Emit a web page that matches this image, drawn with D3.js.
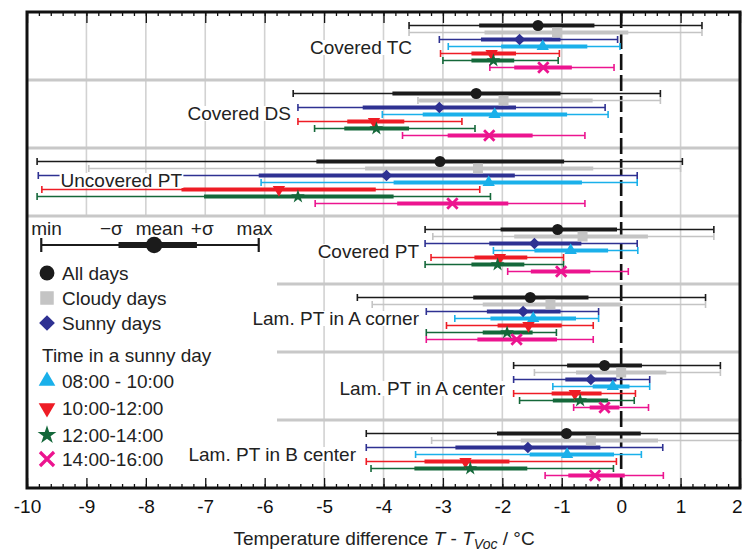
<!DOCTYPE html>
<html><head><meta charset="utf-8">
<script src="https://cdn.jsdelivr.net/npm/d3@7"></script>
<style>
body{margin:0;background:#fff}
svg{display:block;font-family:"Liberation Sans",Arial,Helvetica,sans-serif}
</style>
</head><body>
<svg id="c" width="742" height="552"></svg>
<script>
// ---------- data ----------
const groups = ["Covered TC","Covered DS","Uncovered PT","Covered PT","Lam. PT in A corner","Lam. PT in A center","Lam. PT in B center"];
const seriesNames = ["All days","Cloudy days","Sunny days","08:00 - 10:00","10:00-12:00","12:00-14:00","14:00-16:00"];
// each entry: [min, mean-σ, mean, mean+σ, max] per group (in group order)
const allDays = [[-3.57,-2.39,-1.40,-0.45,1.36],[-5.52,-3.85,-2.44,-1.02,0.66],[-9.83,-5.13,-3.05,-0.96,1.03],[-3.30,-2.03,-1.07,-0.07,1.56],[-4.44,-2.49,-1.53,-0.55,1.42],[-1.81,-0.91,-0.28,0.35,1.67],[-4.29,-2.09,-0.92,0.33,2.0]];
const cloudyDays = [[-3.57,-2.30,-1.08,0.12,1.36],[-3.42,-3.40,-1.98,-0.48,0.66],[-8.96,-4.31,-2.41,-0.47,1.0],[-3.17,-1.80,-0.65,0.45,1.56],[-4.19,-2.33,-1.19,0.0,1.42],[-1.46,-0.76,0.0,0.76,1.67],[-3.19,-1.69,-0.51,0.62,2.1]];
const sunnyDays = [[-3.06,-2.36,-1.71,-1.02,-0.06],[-5.44,-4.35,-3.06,-1.77,-0.27],[-9.81,-6.10,-3.95,-1.79,0.27],[-3.30,-2.22,-1.46,-0.67,0.27],[-3.28,-2.26,-1.65,-1.02,-0.38],[-1.81,-0.94,-0.51,-0.08,0.48],[-4.29,-2.79,-1.57,-0.35,0.70]];
const t0810 = [[-2.91,-2.02,-1.32,-0.57,-0.02],[-4.02,-3.34,-2.13,-0.91,-0.22],[-6.06,-3.83,-2.23,-0.66,0.27],[-2.15,-1.46,-0.85,-0.22,0.28],[-2.80,-2.20,-1.48,-0.76,-0.38],[-1.15,-0.48,-0.14,0.14,0.48],[-3.46,-1.54,-0.91,-0.12,0.34]];
const t1012 = [[-3.04,-2.52,-2.18,-1.77,-1.04],[-5.44,-4.61,-4.16,-3.65,-2.68],[-9.75,-7.40,-5.76,-4.13,-2.38],[-3.20,-2.47,-2.04,-1.58,-0.97],[-2.94,-2.08,-1.56,-1.00,-0.47],[-1.81,-1.17,-0.78,-0.33,0.24],[-4.29,-3.31,-2.62,-1.88,-0.08]];
const t1214 = [[-3.00,-2.52,-2.15,-1.80,-1.06],[-5.16,-4.66,-4.12,-3.57,-2.46],[-9.83,-7.02,-5.44,-3.83,-2.20],[-3.30,-2.52,-2.08,-1.63,-0.97],[-3.28,-2.33,-1.92,-1.49,-1.09],[-1.71,-1.15,-0.69,-0.22,0.22],[-4.21,-3.48,-2.54,-1.58,-0.13]];
const t1416 = [[-2.21,-1.80,-1.31,-0.83,-0.12],[-3.68,-2.92,-2.22,-1.49,-0.61],[-5.15,-3.77,-2.84,-1.90,-0.61],[-1.91,-1.52,-1.01,-0.52,0.12],[-3.28,-2.42,-1.76,-1.08,-0.47],[-0.80,-0.53,-0.28,-0.03,0.46],[-1.28,-0.89,-0.44,0.06,0.71]];
const xTickLabels = [-10,-9,-8,-7,-6,-5,-4,-3,-2,-1,0,1,2];
const legendSample = [-9.76,-8.46,-7.86,-7.14,-6.10]; // min, -σ, mean, +σ, max on x scale
const legendSampleLabels = ["min","\u2212\u03c3","mean","+\u03c3","max"];
const legendSampleLabelAt = [-9.67,-8.58,-7.77,-7.05,-6.17];

const seriesData = [allDays,cloudyDays,sunnyDays,t0810,t1012,t1214,t1416];
const colors = ["#1b1b1b","#c4c4c4","#2e3192","#1ab0ea","#ee1c25","#14683a","#ec148f"];
const markers = ["circle","square","diamond","up","down","star","x"];

// ---------- layout ----------
const W=742,H=552;
const L=27,R=740,T=12,B=488;
const svg=d3.select("#c");
const x=d3.scaleLinear().domain([-10,2]).range([L,R]);
const gy=d3.scaleBand().domain(groups).range([T,B]);
const ry=d3.scalePoint().domain(seriesNames).range([13.5,55.5]);
const legendRight=277, legendTop=gy(groups[3]);

svg.append("rect").attr("width",W).attr("height",H).attr("fill","#fff");

// vertical grid
svg.append("g").selectAll("line").data(xTickLabels.filter(v=>v>-10&&v<2&&v!==0)).join("line")
  .attr("x1",d=>x(d)).attr("x2",d=>x(d)).attr("y1",T).attr("y2",B)
  .attr("stroke","#d2d2d2").attr("stroke-width",1.6);

// legend background
svg.append("rect").attr("x",L).attr("y",legendTop).attr("width",legendRight-L).attr("height",B-legendTop).attr("fill","#fff");

// separators
svg.append("g").selectAll("line").data(groups.slice(1)).join("line")
  .attr("x1",(d,i)=>i<3?L:legendRight).attr("x2",R).attr("y1",d=>gy(d)).attr("y2",d=>gy(d))
  .attr("stroke","#c8c8c8").attr("stroke-width",3.2);

// zero dashed line
svg.append("line").attr("x1",x(0)).attr("x2",x(0)).attr("y1",T).attr("y2",B)
  .attr("stroke","#111").attr("stroke-width",2.6).attr("stroke-dasharray","16,5");

// axes ticks
const minor=d3.range(-10,2.0001,0.2).map(v=>Math.round(v*10)/10);
const topAx=svg.append("g").attr("transform",`translate(0,${T})`)
  .call(d3.axisTop(x).tickValues(minor).tickSizeInner(-4).tickSizeOuter(0).tickFormat(""));
const topMaj=svg.append("g").attr("transform",`translate(0,${T})`)
  .call(d3.axisTop(x).tickValues(xTickLabels).tickSizeInner(-11).tickSizeOuter(0).tickFormat(""));
const botAx=svg.append("g").attr("transform",`translate(0,${B})`)
  .call(d3.axisBottom(x).tickValues(minor).tickSizeInner(-4).tickSizeOuter(0).tickFormat(""));
const botMaj=svg.append("g").attr("transform",`translate(0,${B})`)
  .call(d3.axisBottom(x).tickValues(xTickLabels).tickSizeInner(-10).tickSizeOuter(0).tickPadding(12).tickFormat(d3.format("d")));
[topAx,topMaj,botAx,botMaj].forEach(a=>{a.select(".domain").remove();a.selectAll("line").attr("stroke","#111").attr("stroke-width",1.3);});
botMaj.selectAll("text").attr("font-size",19).attr("fill","#111").attr("font-family","Liberation Sans, Arial, sans-serif")
  .text(d=>d<0?"-"+Math.abs(d):d)
  .attr("text-anchor",d=>d===2?"end":"middle").attr("dx",d=>d===2?2:0);

// symbol helper
function sym(g,type,cx,cy,color,s){
  const k=s||1;
  let el, extra="";
  if(type==="circle") el=g.append("circle").attr("r",5.5*k).attr("fill",color);
  else if(type==="square") el=g.append("rect").attr("x",-5*k).attr("y",-5*k).attr("width",10*k).attr("height",10*k).attr("fill",color);
  else if(type==="diamond"){ el=g.append("path").attr("d",d3.symbol(d3.symbolSquare,68*k*k)()).attr("fill",color); extra="rotate(45)"; }
  else if(type==="up") el=g.append("path").attr("d",d3.symbol(d3.symbolTriangle,66*k*k)()).attr("fill",color);
  else if(type==="down"){ el=g.append("path").attr("d",d3.symbol(d3.symbolTriangle,66*k*k)()).attr("fill",color); extra="rotate(180)"; }
  else if(type==="star") el=g.append("path").attr("d",d3.symbol(d3.symbolStar,60*k*k)()).attr("fill",color);
  else if(type==="x"){const a=5.2*k; el=g.append("path").attr("d",`M${-a},${-a}L${a},${a}M${-a},${a}L${a},${-a}`).attr("stroke",color).attr("stroke-width",2.8*Math.sqrt(k)).attr("fill","none");}
  el.attr("transform",`translate(${cx},${cy}) ${extra}`);
  return el;
}

// group labels (right edge x, baseline y relative to group top)
const labelRight=[412,291,182,419,419,505,356];
const labelBase=[42,40,39,42,41,43,41];
const rows=svg.append("g");
groups.forEach((grp,gi)=>{
  seriesNames.forEach((sn,si)=>{
    const v=seriesData[si][gi], c=colors[si], y=gy(grp)+ry(sn);
    const g=rows.append("g");
    g.append("line").attr("x1",x(v[0])).attr("x2",x(v[4])).attr("y1",y).attr("y2",y).attr("stroke",c).attr("stroke-width",1.6);
    [v[0],v[4]].forEach(e=>g.append("line").attr("x1",x(e)).attr("x2",x(e)).attr("y1",y-3.5).attr("y2",y+3.5).attr("stroke",c).attr("stroke-width",1.6));
    g.append("line").attr("x1",x(v[1])).attr("x2",x(v[3])).attr("y1",y).attr("y2",y).attr("stroke",c).attr("stroke-width",4);
  });
});
groups.forEach((grp,gi)=>{
  seriesNames.forEach((sn,si)=>{
    const v=seriesData[si][gi], y=gy(grp)+ry(sn);
    sym(rows,markers[si],x(v[2]),y,colors[si],1);
  });
});
const labTop=svg.append("g");
groups.forEach((grp,i)=>{
  const t=labTop.append("text").attr("x",labelRight[i]).attr("y",gy(grp)+labelBase[i]).attr("text-anchor","end")
    .attr("font-size",19).attr("fill","#222").text(grp);
  const bb=t.node().getBBox();
  labTop.insert("rect","text").attr("x",bb.x-1).attr("y",gy(grp)+labelBase[i]-14).attr("width",bb.width+2).attr("height",15).attr("fill","#fff");
});

// frame
svg.append("rect").attr("x",L).attr("y",T).attr("width",R-L).attr("height",B-T).attr("fill","none").attr("stroke","#111").attr("stroke-width",3);

// legend
const lg=svg.append("g").attr("font-size",19).attr("fill","#222");
const ly=245;
lg.append("line").attr("x1",x(legendSample[0])).attr("x2",x(legendSample[4])).attr("y1",ly).attr("y2",ly).attr("stroke","#1b1b1b").attr("stroke-width",2.2);
[legendSample[0],legendSample[4]].forEach(e=>lg.append("line").attr("x1",x(e)).attr("x2",x(e)).attr("y1",ly-7).attr("y2",ly+7).attr("stroke","#1b1b1b").attr("stroke-width",2.2));
lg.append("line").attr("x1",x(legendSample[1])).attr("x2",x(legendSample[3])).attr("y1",ly).attr("y2",ly).attr("stroke","#1b1b1b").attr("stroke-width",6);
sym(lg,"circle",x(legendSample[2]),ly,"#1b1b1b",1.5);
legendSampleLabels.forEach((t,i)=>lg.append("text").attr("x",x(legendSampleLabelAt[i])).attr("y",235).attr("text-anchor","middle").text(t));

const legendY=[273,298,323,null,381,408,435,459];
const legendItems=[0,1,2,null,3,4,5,6];
legendItems.forEach((si,i)=>{
  if(si===null){lg.append("text").attr("x",42).attr("y",362).text("Time in a sunny day");return;}
  sym(lg,markers[si],47,legendY[i],colors[si],1.35);
  lg.append("text").attr("x",62).attr("y",legendY[i]+7).text(seriesNames[si]);
});

// axis title
const tt=svg.append("text").attr("x",384).attr("y",545).attr("text-anchor","middle").attr("font-size",19).attr("fill","#222");
tt.append("tspan").text("Temperature difference  ");
tt.append("tspan").attr("font-style","italic").text("T");
tt.append("tspan").text(" - ");
tt.append("tspan").attr("font-style","italic").text("T");
tt.append("tspan").attr("font-style","italic").attr("font-size",14).attr("dy",4).text("V");
tt.append("tspan").attr("font-style","italic").attr("font-size",14).text("oc");
tt.append("tspan").attr("dy",-4).text(" / \u00b0C");
</script>
</body></html>
